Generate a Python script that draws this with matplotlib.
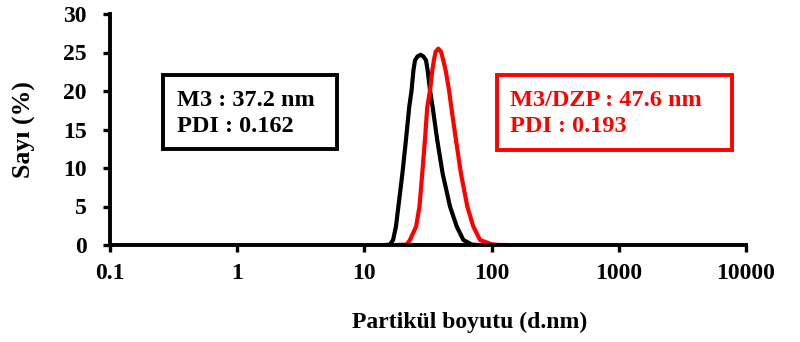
import matplotlib
matplotlib.use("Agg")
from matplotlib import pyplot as plt
from matplotlib.patches import Rectangle

# size distribution (number %)
m3_size = [14.5, 15.9, 16.8, 17.7, 18.5, 19.9, 21.2, 22.5, 23.5, 24.3, 25.0, 26.2, 27.7, 29.0, 30.5, 31.4, 32.8, 34.4, 37.4, 41.2, 47.1, 53.2, 60.0, 70.0, 80.0]
m3_pct = [0.0, 0.05, 0.65, 2.4, 5.0, 9.3, 13.6, 17.9, 20.1, 22.7, 24.0, 24.5, 24.7, 24.5, 24.0, 22.7, 20.1, 17.9, 13.6, 9.3, 5.0, 2.4, 0.65, 0.05, 0.0]

dzp_size = [18.0, 21.5, 22.8, 25.5, 27.1, 28.5, 29.9, 31.2, 32.8, 34.2, 35.2, 36.3, 38.1, 40.0, 41.7, 43.5, 46.3, 48.2, 52.5, 57.4, 64.4, 71.8, 81.1, 100.0, 116.0, 130.0]
dzp_pct = [0.0, 0.05, 0.65, 2.4, 5.0, 9.3, 13.6, 17.9, 20.1, 22.7, 24.0, 25.1, 25.5, 25.1, 24.0, 22.7, 20.1, 17.9, 13.6, 9.3, 5.0, 2.4, 0.65, 0.1, 0.0, 0.0]

xticks = [0.1, 1, 10, 100, 1000, 10000]
xlabels = ['0.1', '1', '10', '100', '1000', '10000']
yticks = [0, 5, 10, 15, 20, 25, 30]

plt.rcParams['font.family'] = ['Liberation Serif', 'DejaVu Serif']
plt.rcParams['font.weight'] = 'bold'

fig = plt.figure(figsize=(8, 3.42), dpi=100)
ax = fig.add_axes([110/800, 97/342, 636/800, 231/342])

ax.plot(m3_size, m3_pct, color='black', lw=3, solid_joinstyle='round')
ax.plot(dzp_size, dzp_pct, color='#ff0000', lw=3, solid_joinstyle='round')

ax.set_xscale('log')
ax.set_xlim(0.1, 10000)
ax.set_ylim(0, 30)
ax.set_xticks(xticks)
ax.set_xticklabels(xlabels)
ax.minorticks_off()
ax.set_yticks(yticks)
ax.tick_params(direction='out', length=5, width=2.4, labelsize=17)
ax.tick_params(axis='x', pad=8)
ax.tick_params(axis='y', pad=12)
for t in ax.get_xticklabels() + ax.get_yticklabels():
    t.set_fontweight('bold')

for s in ['top', 'right']:
    ax.spines[s].set_visible(False)
for s in ['left', 'bottom']:
    ax.spines[s].set_linewidth(2.8)

ax.set_xlabel('Partikül boyutu (d.nm)', fontsize=17, fontweight='bold', va='center')
ax.xaxis.set_label_coords(0.566, -0.333)
ax.set_ylabel('Sayı (%)', fontsize=18.5, fontweight='bold', va='center')
ax.yaxis.set_label_coords(-0.135, 0.5)

# info boxes (pixel positions from the picture)
def box(x0, y0, x1, y1, col):
    fig.add_artist(Rectangle((x0/800, 1 - y1/342), (x1 - x0)/800, (y1 - y0)/342,
                             transform=fig.transFigure, fill=False, ec=col, lw=2.8))

box(163, 75, 337, 149, 'black')
fig.text(177/800, 1 - 100/342, 'M3 : 37.2 nm', fontsize=17.5, fontweight='bold', va='center', color='black')
fig.text(177/800, 1 - 127/342, 'PDI : 0.162', fontsize=17.5, fontweight='bold', va='center', color='black')

box(497, 75, 732, 150, '#ff0000')
fig.text(510/800, 1 - 100/342, 'M3/DZP : 47.6 nm', fontsize=17.5, fontweight='bold', va='center', color='#ff0000')
fig.text(510/800, 1 - 127/342, 'PDI : 0.193', fontsize=17.5, fontweight='bold', va='center', color='#ff0000')

fig.savefig('out.png', dpi=100)
